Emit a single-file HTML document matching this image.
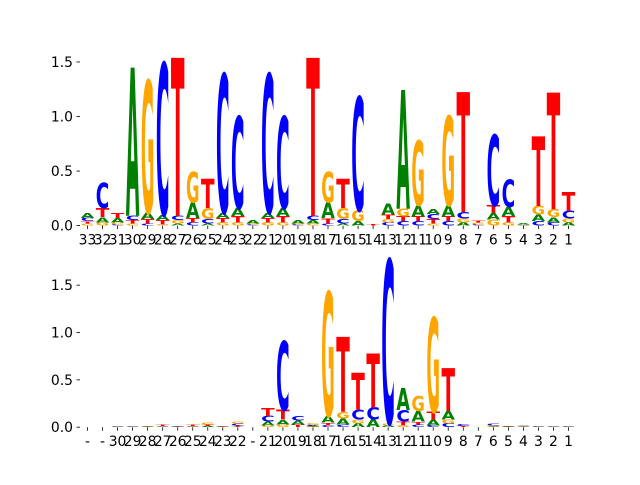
<!DOCTYPE html>
<html><head><meta charset="utf-8"><style>
html,body{margin:0;padding:0;background:#fff}
svg text{font-family:"DejaVu Sans","Liberation Sans",sans-serif}
</style></head><body>
<svg id="chart" width="640" height="480" viewBox="0 0 640 480" xmlns="http://www.w3.org/2000/svg">
<rect width="640" height="480" fill="#fff"/>
<g id="top"></g>
<g id="bot"></g>
</svg>
<script>
const topLabels = ["33","32","31","30","29","28","27","26","25","24","23","22","21","20","19","18","17","16","15","14","13","12","11","10","9","8","7","6","5","4","3","2","1"];
const topA = [.05,.05,.04,1.36,.06,.05,.02,.14,.02,.05,.07,.03,.05,.07,.03,.03,.14,.02,.04,0,.10,1.09,.10,.05,.10,.03,0,.06,.08,.01,.06,.05,.03];
const topC = [.03,.23,.01,.04,.02,1.39,.04,.03,.04,1.27,.84,.01,1.27,.84,.01,.04,.02,.04,1.04,0,.03,.04,.04,.045,.04,.06,.01,.65,.25,.005,.04,.03,.07];
const topG = [.02,.03,.02,.02,1.21,.01,.03,.28,.10,.03,.03,.01,.03,.03,.01,.02,.28,.10,.10,0,.03,.07,.59,.02,.82,.035,.02,.055,.03,.005,.08,.07,.035];
const topT = [.02,.08,.045,.03,.04,.04,1.45,.04,.27,.04,.06,0,.04,.06,0,1.45,.05,.27,0,.01,.04,.045,.045,.04,.045,1.1,.02,.07,.06,0,.64,1.07,.17];
const topTicks = [0,0.5,1.0,1.5];

const botLabels = ["-","-","30","29","28","27","26","25","24","23","22","-","21","20","19","18","17","16","15","14","13","12","11","10","9","8","7","6","5","4","3","2","1"];
const botA = [0,0,.004,.004,.004,.003,.003,.004,.01,.004,.005,0,.04,.05,.04,.01,.07,.06,.04,.08,.02,.23,.11,.06,.09,0,0,.005,.005,.008,.004,.004,.004];
const botC = [0,0,.003,.003,.003,.005,.003,.003,.004,.003,.02,0,.06,.73,.05,.01,.02,.03,.10,.13,1.73,.12,.03,.02,.04,.02,0,.02,.003,.004,.003,.003,.003];
const botG = [0,0,.004,.004,.003,.004,.004,.005,.02,.004,.02,0,.02,.03,0,.02,1.31,.07,.04,0,.02,.02,.16,1.0,.04,.004,0,.01,.004,.006,.004,.005,.004];
const botT = [0,0,.002,.002,.003,.015,.003,.015,.015,.003,.012,0,.08,.10,.03,.005,.03,.79,.39,.57,0,.04,.03,.08,.45,.01,0,.003,.003,.003,.002,.002,.002];
const botTicks = [0,0.5,1.0,1.5];

const colors = {A:"#008000",C:"#0000ff",G:"#ffa500",T:"#ff0000"};
const NS = "http://www.w3.org/2000/svg";

function drawPanel(gid, labels, A, C, G, T, ticks, yTop, yBot, yMax, prefix){
  const g = document.getElementById(gid);
  const x0 = 80, x1 = 576, n = labels.length;
  const step = (x1 - x0) / n;
  const xPos = i => x0 + step * (i + 0.5);
  const yPos = v => yBot - (v / yMax) * (yBot - yTop);
  // y ticks
  ticks.forEach(t => {
    const y = yPos(t);
    const ln = document.createElementNS(NS, "line");
    ln.setAttribute("x1", x0 - 3.5); ln.setAttribute("x2", x0);
    ln.setAttribute("y1", y); ln.setAttribute("y2", y);
    ln.setAttribute("stroke", "#000"); ln.setAttribute("stroke-width", "0.8");
    
    
    g.appendChild(ln);
    const tx = document.createElementNS(NS, "text");
    tx.setAttribute("x", x0 - 7); tx.setAttribute("y", y + 5);
    tx.setAttribute("text-anchor", "end"); tx.setAttribute("font-size", "13.9");
    tx.textContent = t.toFixed(1);
    
    
    g.appendChild(tx);
  });
  // x ticks + letters
  labels.forEach((lab, i) => {
    const x = xPos(i);
    const ln = document.createElementNS(NS, "line");
    ln.setAttribute("x1", x); ln.setAttribute("x2", x);
    ln.setAttribute("y1", yBot); ln.setAttribute("y2", yBot + 3.5);
    ln.setAttribute("stroke", "#000"); ln.setAttribute("stroke-width", "0.8");
    
    
    g.appendChild(ln);
    const tx = document.createElementNS(NS, "text");
    tx.setAttribute("x", x); tx.setAttribute("y", yBot + 19);
    tx.setAttribute("text-anchor", "middle"); tx.setAttribute("font-size", "13.9");
    tx.textContent = lab;
    
    
    g.appendChild(tx);

    const stack = [["A", A[i]], ["C", C[i]], ["G", G[i]], ["T", T[i]]]
      .filter(s => s[1] > 0).sort((a, b) => a[1] - b[1]);
    let cum = 0;
    const w = step * 0.9;
    stack.forEach(([letter, h]) => {
      const yb = yPos(cum), yt = yPos(cum + h);
      cum += h;
      const hp = yb - yt;
      if (hp < 0.05) return;
      const t = document.createElementNS(NS, "text");
      t.setAttribute("x", 0); t.setAttribute("y", 0);
      t.setAttribute("font-size", "100");
      t.setAttribute("font-weight", "bold");
      t.setAttribute("text-anchor", "middle");
      t.setAttribute("textLength", "76");
      t.setAttribute("lengthAdjust", "spacingAndGlyphs");
      t.setAttribute("fill", colors[letter]);
      const sy = hp / 73;
      const sx = w / 76;
      t.setAttribute("transform", "translate(" + x + "," + yb + ") scale(" + sx + "," + sy + ")");
      t.textContent = letter;
      
      
      g.appendChild(t);
    });
  });
}
drawPanel("top", topLabels, topA, topC, topG, topT, topTicks, 57.6, 225.6, 1.54, "top");
drawPanel("bot", botLabels, botA, botC, botG, botT, botTicks, 259.2, 427.2, 1.774, "bottom");
</script>
</body></html>
